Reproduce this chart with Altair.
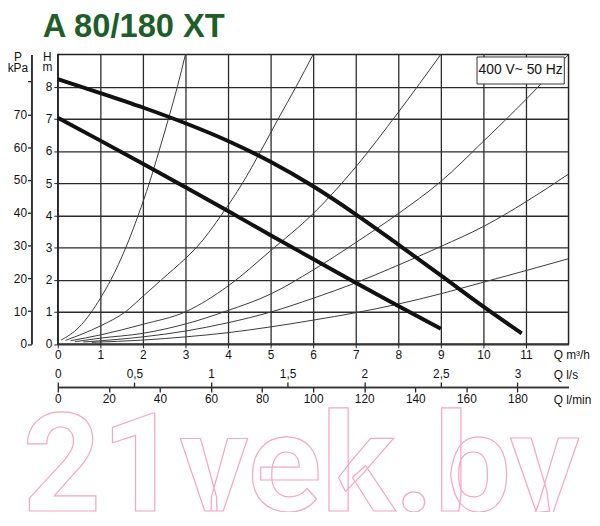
import altair as alt
import pandas as pd

TITLE = "A 80/180 XT"
RATING = "400 V~ 50 Hz"
WATERMARK = "21vek.by"
FONT = "Liberation Sans"
GRID = "#2b2b2b"

# Pump performance curves: Q (m³/h) -> H (m)
curve_hi_q = [0, 1, 2, 3, 4, 5, 6, 7, 8, 9, 10, 10.9]
curve_hi_h = [8.23, 7.80, 7.35, 6.86, 6.31, 5.66, 4.90, 4.03, 3.09, 2.13, 1.16, 0.33]
curve_lo_q = [0, 1, 2, 3, 4, 5, 6, 7, 8, 9]
curve_lo_h = [7.03, 6.32, 5.60, 4.87, 4.13, 3.38, 2.64, 1.90, 1.18, 0.47]

# System (resistance) curves
sys_a_q = [0.08, 0.5, 1.0, 1.25, 1.6, 1.89, 2.15, 2.38, 2.6, 2.81, 3.0]
sys_a_h = [0.12, 0.52, 1.42, 2.0, 3.0, 4.0, 5.0, 6.0, 7.0, 8.0, 9.0]
sys_b_q = [0.18, 1.0, 1.59, 2.0, 2.44, 3.0, 3.26, 3.84, 4.34, 4.77, 5.18, 5.6, 6.0]
sys_b_h = [0.11, 0.56, 1.0, 1.48, 2.0, 2.66, 3.0, 4.0, 5.0, 6.0, 7.0, 8.0, 9.0]
sys_c_q = [0.3, 1, 2, 3, 4, 5, 6, 7, 8, 9]
sys_c_h = [0.1, 0.28, 0.61, 1.0, 1.8, 2.9, 4.05, 5.5, 7.2, 9.0]
sys_d_q = [0.4, 1, 2, 3, 4, 5, 6, 7, 8, 9, 10, 11, 12]
sys_d_h = [0.07, 0.18, 0.33, 0.62, 1.04, 1.55, 2.3, 3.15, 4.05, 5.05, 6.3, 7.6, 9.0]
sys_e_q = [0.6, 2, 3, 4, 5, 6, 7, 8, 9, 10, 11, 12]
sys_e_h = [0.06, 0.22, 0.4, 0.66, 0.99, 1.42, 1.9, 2.45, 3.03, 3.65, 4.42, 5.28]
sys_f_q = [0.8, 2, 3, 4, 5, 6, 7, 8, 9, 10, 11, 12]
sys_f_h = [0.05, 0.12, 0.22, 0.35, 0.53, 0.74, 0.97, 1.24, 1.56, 1.92, 2.28, 2.65]

# Axis tick values
h_ticks = [0, 1, 2, 3, 4, 5, 6, 7, 8]
q_ticks = [0, 1, 2, 3, 4, 5, 6, 7, 8, 9, 10, 11]
p_ticks = [0, 10, 20, 30, 40, 50, 60, 70, 80]
ls_ticks = [0, 0.5, 1, 1.5, 2, 2.5, 3]
lmin_ticks = [0, 20, 40, 60, 80, 100, 120, 140, 160, 180]

# Rating box (data coordinates)
box_q = [9.85, 11.9]
box_h = [8.08, 8.92]

Q_MAX, H_MAX = 12, 9


def frame(name, qs, hs):
    return pd.DataFrame({"curve": name, "Q": qs, "H": hs})


sys_df = pd.concat([
    frame("a", sys_a_q, sys_a_h), frame("b", sys_b_q, sys_b_h),
    frame("c", sys_c_q, sys_c_h), frame("d", sys_d_q, sys_d_h),
    frame("e", sys_e_q, sys_e_h), frame("f", sys_f_q, sys_f_h),
])
pump_df = pd.concat([
    frame("hi", curve_hi_q, curve_hi_h), frame("lo", curve_lo_q, curve_lo_h),
])
box_df = pd.DataFrame({"Q": [box_q[0]], "Q2": [box_q[1]], "H": [box_h[0]], "H2": [box_h[1]],
                       "Qc": [(box_q[0] + box_q[1]) / 2], "Hc": [(box_h[0] + box_h[1]) / 2],
                       "t": [RATING]})

xs = alt.Scale(domain=[0, Q_MAX], nice=False, zero=False)
ys = alt.Scale(domain=[0, H_MAX], nice=False, zero=False)

common = dict(labelFont=FONT, labelFontSize=12, labelColor="#111", titleFont=FONT,
              titleFontSize=12, titleFontWeight="normal", titleColor="#111",
              tickColor="#222", labelOverlap=False)

x_axis = alt.Axis(values=q_ticks, title="Q m³/h", titleX=500.5, titleY=14.5,
                  titleAlign="left", titleBaseline="alphabetic", titleAngle=0,
                  tickSize=4, tickWidth=1, labelPadding=2, labelFlush=False,
                  domain=False, grid=True, gridColor=GRID, gridWidth=1.3,
                  gridOpacity=1, **common)
y_axis = alt.Axis(values=h_ticks, title=["H", "m"], titleX=-11, titleY=5.7,
                  titleAlign="center", titleBaseline="alphabetic", titleAngle=0,
                  titleLineHeight=11, tickSize=4, tickWidth=1, labelPadding=2,
                  domain=False, grid=True, gridColor=GRID, gridWidth=1.3,
                  gridOpacity=1, **common)

thin = alt.Chart(sys_df).mark_line(color="#3a3a3a", strokeWidth=1, interpolate="monotone").encode(
    x=alt.X("Q:Q", scale=xs, axis=x_axis),
    y=alt.Y("H:Q", scale=ys, axis=y_axis),
    detail="curve:N",
)
thick = alt.Chart(pump_df).mark_line(color="#111111", strokeWidth=4, interpolate="monotone").encode(
    x=alt.X("Q:Q", scale=xs, axis=x_axis),
    y=alt.Y("H:Q", scale=ys, axis=y_axis),
    detail="curve:N",
)
box = alt.Chart(box_df).mark_rect(fill="white", stroke="#333", strokeWidth=1).encode(
    x=alt.X("Q:Q", scale=xs, axis=x_axis), x2="Q2",
    y=alt.Y("H:Q", scale=ys, axis=y_axis), y2="H2",
)
box_text = alt.Chart(box_df).mark_text(font=FONT, fontSize=14, color="#111",
                                       align="center", baseline="middle").encode(
    x=alt.X("Qc:Q", scale=xs, axis=x_axis),
    y=alt.Y("Hc:Q", scale=ys, axis=y_axis),
    text="t:N",
)
main = alt.layer(thin, thick, box, box_text)

# Secondary axes
p_df = pd.DataFrame({"p": [0, H_MAX * 9.81]})
p_layer = alt.Chart(p_df).mark_point(opacity=0).encode(
    y=alt.Y("p:Q", scale=alt.Scale(domain=[0, H_MAX * 9.81], nice=False, zero=False),
            axis=alt.Axis(orient="left", offset=26.6, values=p_ticks,
                          labelExpr="datum.value == 80 ? '' : datum.label",
                          title=["P", "kPa"], titleX=-14.2, titleY=5.7, titleAlign="center",
                          titleBaseline="alphabetic", titleAngle=0, titleLineHeight=12,
                          domain=True, domainColor="#333", domainWidth=2,
                          tickSize=4, tickWidth=1.3, labelPadding=1, grid=False, **common))
)
ls_df = pd.DataFrame({"ls": [0, Q_MAX / 3.6]})
ls_layer = alt.Chart(ls_df).mark_point(opacity=0).encode(
    x=alt.X("ls:Q", scale=alt.Scale(domain=[0, Q_MAX / 3.6], nice=False, zero=False),
            axis=alt.Axis(orient="top", offset=-336, values=ls_ticks,
                          labelExpr="replace(format(datum.value, '~g'), '.', ',')",
                          title="Q l/s", titleX=500.5, titleY=-8.5, titleAlign="left",
                          titleBaseline="alphabetic", titleAngle=0, labelFlush=False,
                          domain=True, domainColor="#333", domainWidth=1.5,
                          tickSize=5, tickWidth=1.3, labelPadding=2, grid=False, **common))
)
lmin_df = pd.DataFrame({"lm": [0, Q_MAX * 1000 / 60]})
lmin_layer = alt.Chart(lmin_df).mark_point(opacity=0).encode(
    x=alt.X("lm:Q", scale=alt.Scale(domain=[0, Q_MAX * 1000 / 60], nice=False, zero=False),
            axis=alt.Axis(orient="bottom", offset=43.5, values=lmin_ticks,
                          title="Q l/min", titleX=500.5, titleY=17, titleAlign="left",
                          titleBaseline="alphabetic", titleAngle=0, labelFlush=False,
                          domain=True, domainColor="#333", domainWidth=1.5,
                          tickSize=5, tickWidth=1.3, labelPadding=2, grid=False, **common))
)

text_df = pd.DataFrame({"t": [TITLE], "w": [WATERMARK]})
title_layer = alt.Chart(text_df).mark_text(font=FONT, fontSize=33, fontWeight="bold",
                                           color="#1d5e2a", align="left",
                                           baseline="top").encode(
    x=alt.value(-15.3), y=alt.value(-43.8), text="t:N")
watermark = alt.Chart(text_df).mark_text(font="Roboto", fontSize=138, fontWeight="bold",
                                         fillOpacity=0, stroke="#f6a6c7", strokeWidth=1.2,
                                         align="left", baseline="alphabetic").encode(
    x=alt.value(-35.3), y=alt.value(461), text="w:N")

chart = alt.layer(watermark, main, p_layer, ls_layer, lmin_layer, title_layer).resolve_scale(
    x="independent", y="independent"
).properties(
    width=516, height=292.5, autosize="none",
    padding={"left": 50.3, "top": 44.3, "right": 23.7, "bottom": 167.2},
).configure(font=FONT).configure_view(stroke="#222", strokeWidth=1.5)

chart.save("out.html", embed_options={"renderer": "svg", "actions": False})
